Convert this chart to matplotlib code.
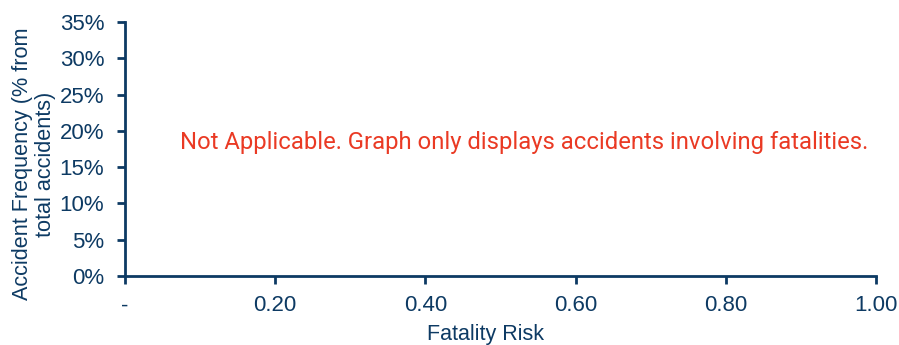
import matplotlib.pyplot as plt
import numpy as np

navy = "#0d3a63"
red = "#ea3a24"

x_ticks = [0.0, 0.2, 0.4, 0.6, 0.8, 1.0]
x_labels = ["-", "0.20", "0.40", "0.60", "0.80", "1.00"]
y_ticks = [0, 5, 10, 15, 20, 25, 30, 35]
y_labels = ["%d%%" % v for v in y_ticks]
note = "Not Applicable. Graph only displays accidents involving fatalities."

plt.rcParams['font.family'] = ['Liberation Sans', 'DejaVu Sans']

fig = plt.figure(figsize=(8.99, 3.45), dpi=100)
ax = fig.add_axes([125/899, 1-276/345, 751/899, 254/345])

ax.set_xlim(0, 1)
ax.set_ylim(0, 35)
ax.set_xticks(x_ticks)
ax.set_xticklabels(x_labels)
ax.set_yticks(y_ticks)
ax.set_yticklabels(y_labels)

for s in ["top", "right"]:
    ax.spines[s].set_visible(False)
for s in ["left", "bottom"]:
    ax.spines[s].set_color(navy)
    ax.spines[s].set_linewidth(2)

ax.tick_params(axis="both", colors=navy, labelsize=16, width=2, length=6)
ax.tick_params(axis="x", pad=8)
ax.tick_params(axis="y", pad=9)

ax.set_xlabel("Fatality Risk", fontsize=15.5, color=navy)
ax.xaxis.set_label_coords(0.48, -0.19)
ax.set_ylabel("Accident Frequency (% from\ntotal accidents)", fontsize=15.6,
              color=navy, linespacing=1.1)
ax.yaxis.set_label_coords(-0.092, 0.44)

ax.text(0.073, 0.524, note, transform=ax.transAxes, fontsize=17.2,
        color=red, ha="left", va="center", family=["Roboto", "DejaVu Sans"])

fig.savefig("out.png", dpi=100)
